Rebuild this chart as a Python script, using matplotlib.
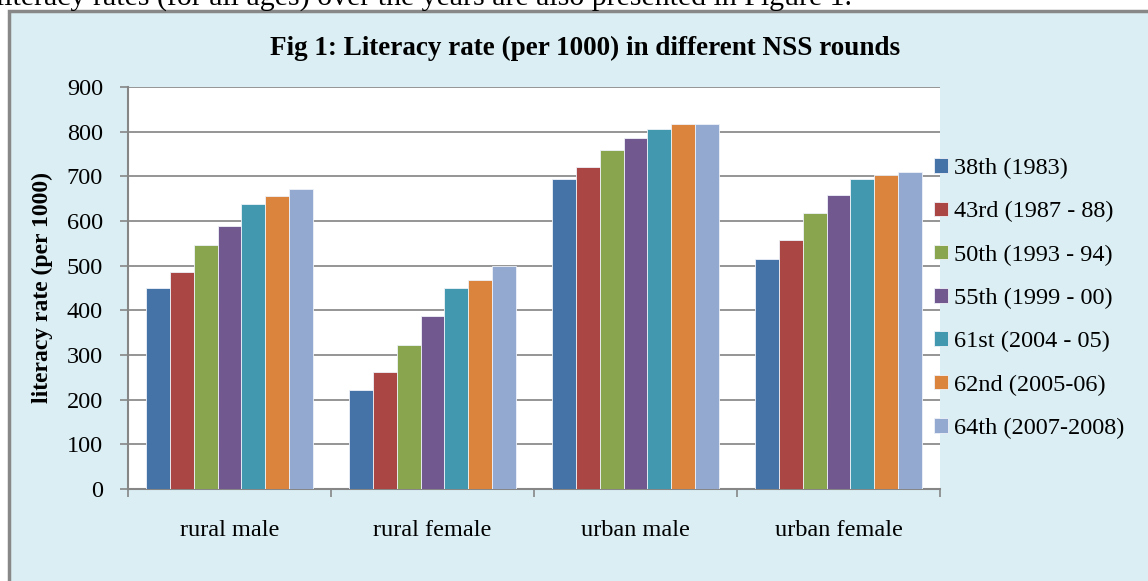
import matplotlib
matplotlib.use('Agg')
import matplotlib.pyplot as plt
import numpy as np
from matplotlib.patches import Rectangle

plt.rcParams['font.family'] = ['Liberation Serif', 'DejaVu Serif']

# dados
categorias = ['rural male', 'rural female', 'urban male', 'urban female']
rodadas = ['38th (1983)', '43rd (1987 - 88)', '50th (1993 - 94)', '55th (1999 - 00)',
           '61st (2004 - 05)', '62nd (2005-06)', '64th (2007-2008)']
r38 = [450, 221, 694, 516]
r43 = [485, 261, 720, 557]
r50 = [546, 322, 760, 617]
r55 = [589, 387, 785, 658]
r61 = [637, 451, 806, 694]
r62 = [657, 468, 817, 703]
r64 = [671, 499, 817, 710]
series = [r38, r43, r50, r55, r61, r62, r64]
cores = ['#4572A7', '#AA4643', '#89A54E', '#71588F', '#4198AF', '#DB843D', '#93A9CF']

fig = plt.figure(figsize=(11.48, 5.81), dpi=100)
fig.patch.set_facecolor('white')
W, H = 1148, 581

# caixa azul clara do gráfico
caixa = Rectangle((9 / W, -0.1), 1.2, 1 - 11 / H + 0.1, transform=fig.transFigure,
                  facecolor='#DAEEF3', edgecolor='#888888', linewidth=2.5, zorder=-5)
fig.patches.append(caixa)

# linha de texto cortada no topo (como na imagem original)
fig.text(-4 / W, 1 - 6 / H, 'literacy rates (for all ages) over the years are also presented in Figure 1.',
         fontsize=21.5, ha='left', va='baseline', color='black')

ax = fig.add_axes([128 / W, 1 - 489 / H, (940 - 128) / W, (489 - 87) / H])
ax.set_zorder(2)
ax.set_facecolor('white')

x = np.arange(len(categorias))
n = len(series)
larg = 0.118
for i, (vals, cor, nome) in enumerate(zip(series, cores, rodadas)):
    ax.bar(x + (i - (n - 1) / 2) * larg, vals, width=larg, color=cor,
           edgecolor='#eef2f8', linewidth=0.6, label=nome, zorder=3)

ax.set_xlim(-0.5, len(categorias) - 0.5)
ax.set_ylim(0, 900)
ax.set_yticks(np.arange(0, 901, 100))
ax.yaxis.grid(True, color='#8c8c8c', linewidth=1.3, zorder=0)
ax.set_axisbelow(True)

ax.set_xticks(x)
ax.set_xticklabels(categorias, fontsize=17.5)
ax.set_xticks(np.arange(-0.5, len(categorias), 1), minor=True)
ax.tick_params(axis='x', which='major', length=0, pad=22)
ax.tick_params(axis='x', which='minor', length=6, color='#868686', width=1.2)
ax.tick_params(axis='y', length=6, color='#868686', width=1.2, pad=12, labelsize=17.5)

for s in ['top', 'right']:
    ax.spines[s].set_visible(False)
for s in ['left', 'bottom']:
    ax.spines[s].set_color('#868686')
    ax.spines[s].set_linewidth(1.5)

ax.set_ylabel('literacy rate (per 1000)', fontsize=17, fontweight='bold', labelpad=10)
fig.text(585 / W, 1 - 48 / H, 'Fig 1: Literacy rate (per 1000) in different NSS rounds',
         fontsize=19.5, fontweight='bold', ha='center', va='center')

leg = ax.legend(loc='center left', bbox_to_anchor=(0.993, 0.474), frameon=False, fontsize=17.5,
                handlelength=0.55, handleheight=0.55, handletextpad=0.25, labelspacing=0.91,
                borderaxespad=0.0, borderpad=0.0)

fig.savefig('out.png', dpi=100, facecolor=fig.get_facecolor())
